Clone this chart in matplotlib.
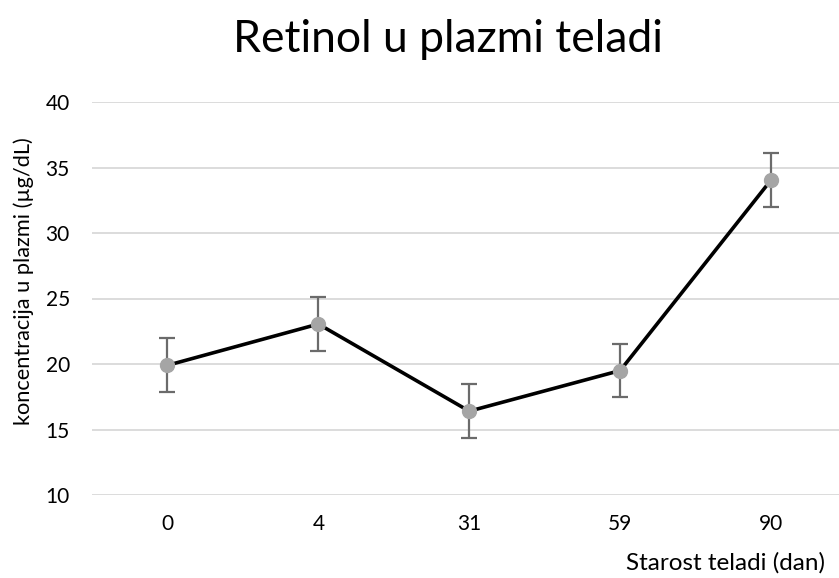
import matplotlib.pyplot as plt
import numpy as np

days = ["0", "4", "31", "59", "90"]
retinol = [19.9, 23.05, 16.4, 19.5, 34.05]
sd = [2.05, 2.05, 2.05, 2.05, 2.05]
yticks = [10, 15, 20, 25, 30, 35, 40]

plt.rcParams['font.family'] = ['Lato', 'DejaVu Sans']

fig = plt.figure(figsize=(8.39, 5.78), dpi=100)
ax = fig.add_axes([92 / 839, 1 - 495 / 578, 1 - 92 / 839, (495 - 102) / 578])

x = np.arange(len(days))
ax.errorbar(x, retinol, yerr=sd, fmt="none", ecolor="#6b6b6b",
            elinewidth=1.6, capsize=6, capthick=1.6, zorder=2)
ax.plot(x, retinol, color="black", linewidth=2.6, zorder=3)
ax.plot(x, retinol, "o", color="#a5a5a5", markersize=10, zorder=4)

ax.set_xlim(-0.5, 4.45)
ax.set_ylim(10, 40)
ax.set_xticks(x)
ax.set_xticklabels(days)
ax.set_yticks(yticks)
ax.grid(axis="y", color="#d9d9d9", linewidth=1.3)
ax.set_axisbelow(True)
for s in ax.spines.values():
    s.set_visible(False)
ax.tick_params(length=0, labelsize=15, colors="black")
ax.tick_params(axis="y", pad=16)
ax.tick_params(axis="x", pad=14)

fig.text(448 / 839, 1 - 40 / 578, "Retinol u plazmi teladi", ha="center", va="center", fontsize=32)
fig.text(825 / 839, 1 - 563 / 578, "Starost teladi (dan)", ha="right", va="center", fontsize=17.5)
fig.text(24 / 839, 1 - 281 / 578, "koncentracija u plazmi (µg/dL)", rotation=90,
         ha="center", va="center", fontsize=15.7)

fig.savefig("out.png", dpi=100)
